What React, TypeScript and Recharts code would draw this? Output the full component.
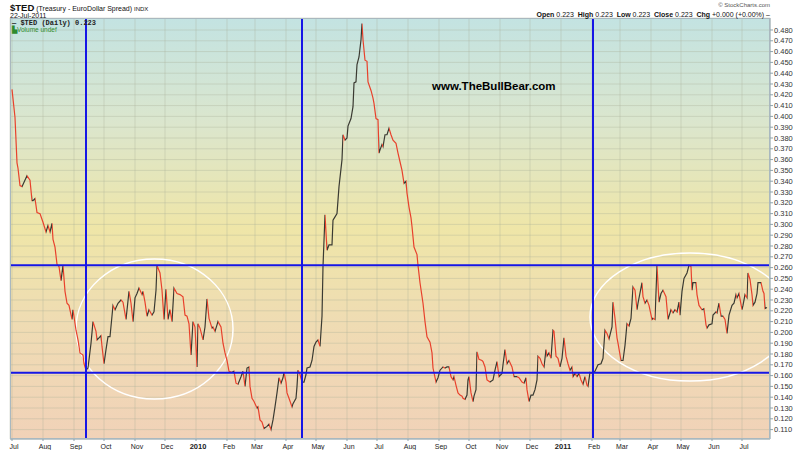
import React from 'react';
import { LineChart, Line, XAxis, YAxis, CartesianGrid, ReferenceLine, ReferenceArea } from 'recharts';

// calendar days since 1-Jul-2009
const tradingDay = [
  0, 3, 5, 6, 8, 10, 11, 15, 18, 20, 21, 23, 25, 28, 31, 34, 36, 38, 40, 41,
  43, 45, 47, 49, 51, 53, 55, 57, 60, 61, 64, 66, 68, 71, 72, 74, 76, 79, 81, 84,
  85, 87, 89, 90, 92, 94, 96, 98, 101, 103, 106, 109, 111, 114, 117, 119, 121, 123, 125, 127,
  130, 131, 133, 135, 137, 140, 142, 144, 145, 148, 150, 152, 154, 156, 158, 160, 162, 165, 168, 171,
  173, 175, 177, 179, 181, 183, 185, 186, 188, 191, 193, 195, 197, 200, 201, 203, 205, 206, 209, 211,
  213, 215, 217, 220, 222, 224, 226, 229, 231, 233, 235, 237, 238, 240, 242, 245, 246, 248, 250, 252,
  255, 257, 259, 261, 263, 265, 267, 269, 271, 272, 274, 275, 277, 280, 281, 284, 285, 286, 288, 290,
  292, 294, 295, 298, 300, 302, 304, 306, 308, 310, 311, 313, 315, 317, 320, 321, 323, 325, 327, 330,
  331, 333, 335, 336, 339, 341, 342, 344, 345, 347, 349, 350, 351, 353, 355, 356, 359, 361, 362, 364,
  366, 367, 368, 370, 371, 373, 375, 377, 379, 381, 384, 386, 388, 390, 392, 394, 395, 397, 399, 400,
  402, 405, 406, 408, 411, 413, 415, 418, 420, 421, 424, 426, 428, 431, 433, 435, 437, 439, 441, 442,
  444, 446, 448, 450, 451, 453, 455, 456, 457, 459, 461, 462, 464, 465, 467, 470, 471, 473, 475, 478,
  481, 483, 485, 487, 490, 491, 493, 495, 497, 500, 502, 505, 507, 510, 512, 514, 515, 517, 519, 521,
  523, 525, 526, 528, 530, 532, 534, 535, 537, 539, 541, 542, 544, 546, 548, 550, 552, 554, 556, 558,
  560, 561, 563, 565, 567, 569, 571, 573, 575, 576, 578, 581, 583, 586, 589, 591, 593, 595, 597, 600,
  601, 603, 605, 606, 609, 611, 613, 615, 617, 619, 621, 623, 625, 626, 630, 631, 633, 635, 637, 640,
  641, 643, 645, 647, 649, 651, 654, 656, 659, 661, 663, 665, 667, 668, 670, 672, 675, 677, 679, 680,
  681, 684, 685, 687, 690, 692, 694, 695, 697, 700, 701, 704, 705, 707, 709, 711, 713, 715, 717, 720,
  722, 724, 725, 727, 730, 731, 733, 735, 736, 738, 740, 741, 743, 745, 746, 749, 751, 752, 753, 755,
];

const tedSpread = [
  0.425, 0.399, 0.357, 0.352, 0.336, 0.335, 0.337, 0.345, 0.341, 0.322, 0.322, 0.324, 0.311, 0.310, 0.302, 0.293, 0.299, 0.293, 0.301, 0.286,
  0.279, 0.263, 0.261, 0.248, 0.262, 0.238, 0.227, 0.225, 0.212, 0.221, 0.202, 0.193, 0.181, 0.179, 0.171, 0.165, 0.167, 0.190, 0.210, 0.201,
  0.193, 0.195, 0.197, 0.187, 0.171, 0.184, 0.196, 0.196, 0.225, 0.221, 0.227, 0.230, 0.228, 0.212, 0.238, 0.227, 0.210, 0.232, 0.236, 0.241,
  0.235, 0.238, 0.228, 0.215, 0.221, 0.216, 0.219, 0.239, 0.262, 0.255, 0.239, 0.212, 0.240, 0.212, 0.221, 0.210, 0.241, 0.236, 0.235, 0.233,
  0.216, 0.215, 0.208, 0.179, 0.210, 0.205, 0.168, 0.208, 0.204, 0.193, 0.205, 0.231, 0.213, 0.204, 0.205, 0.201, 0.207, 0.210, 0.205, 0.190,
  0.181, 0.174, 0.164, 0.163, 0.164, 0.153, 0.152, 0.159, 0.164, 0.150, 0.167, 0.168, 0.150, 0.139, 0.136, 0.130, 0.131, 0.119, 0.117, 0.111,
  0.113, 0.115, 0.110, 0.119, 0.131, 0.144, 0.158, 0.153, 0.158, 0.163, 0.154, 0.144, 0.139, 0.131, 0.134, 0.139, 0.150, 0.165, 0.161, 0.154,
  0.154, 0.161, 0.167, 0.168, 0.174, 0.187, 0.191, 0.193, 0.187, 0.215, 0.261, 0.309, 0.276, 0.281, 0.281, 0.304, 0.307, 0.310, 0.335, 0.360,
  0.383, 0.378, 0.380, 0.391, 0.398, 0.409, 0.431, 0.432, 0.448, 0.455, 0.471, 0.486, 0.471, 0.452, 0.451, 0.432, 0.424, 0.417, 0.412, 0.398,
  0.397, 0.366, 0.369, 0.374, 0.372, 0.383, 0.383, 0.389, 0.383, 0.378, 0.375, 0.366, 0.358, 0.350, 0.338, 0.340, 0.329, 0.316, 0.306, 0.298,
  0.279, 0.272, 0.262, 0.246, 0.227, 0.210, 0.196, 0.191, 0.181, 0.167, 0.154, 0.158, 0.165, 0.168, 0.167, 0.168, 0.168, 0.159, 0.156, 0.159,
  0.151, 0.144, 0.142, 0.141, 0.139, 0.138, 0.142, 0.156, 0.159, 0.144, 0.136, 0.141, 0.147, 0.182, 0.175, 0.174, 0.173, 0.168, 0.156, 0.154,
  0.156, 0.165, 0.173, 0.159, 0.162, 0.170, 0.184, 0.171, 0.174, 0.168, 0.159, 0.159, 0.158, 0.154, 0.153, 0.158, 0.147, 0.136, 0.142, 0.142,
  0.147, 0.156, 0.178, 0.176, 0.171, 0.168, 0.184, 0.178, 0.181, 0.176, 0.202, 0.201, 0.178, 0.176, 0.168, 0.176, 0.195, 0.178, 0.171, 0.165,
  0.168, 0.159, 0.162, 0.159, 0.162, 0.156, 0.152, 0.159, 0.151, 0.150, 0.163, 0.162, 0.164, 0.170, 0.171, 0.176, 0.202, 0.199, 0.194, 0.205,
  0.228, 0.213, 0.195, 0.190, 0.174, 0.174, 0.188, 0.208, 0.206, 0.213, 0.242, 0.239, 0.221, 0.227, 0.246, 0.233, 0.227, 0.230, 0.225, 0.212,
  0.213, 0.212, 0.262, 0.228, 0.236, 0.239, 0.233, 0.212, 0.221, 0.218, 0.221, 0.219, 0.228, 0.216, 0.238, 0.250, 0.255, 0.262, 0.261, 0.239,
  0.246, 0.246, 0.235, 0.225, 0.221, 0.222, 0.207, 0.204, 0.207, 0.208, 0.216, 0.219, 0.218, 0.227, 0.215, 0.215, 0.212, 0.199, 0.216, 0.225,
  0.227, 0.235, 0.232, 0.236, 0.221, 0.225, 0.235, 0.232, 0.255, 0.249, 0.235, 0.225, 0.228, 0.236, 0.246, 0.246, 0.238, 0.236, 0.222, 0.223,
];

const monthTicks = [0, 31, 62, 92, 123, 153, 184, 215, 243, 274, 304, 335, 365, 396, 427, 457, 488, 518, 549, 580, 608, 639, 669, 700, 730];
const monthLabels = ['Jul', 'Aug', 'Sep', 'Oct', 'Nov', 'Dec', '2010', 'Feb', 'Mar', 'Apr', 'May', 'Jun', 'Jul', 'Aug', 'Sep', 'Oct', 'Nov', 'Dec', '2011', 'Feb', 'Mar', 'Apr', 'May', 'Jun', 'Jul'];

const spreadTicks = [
  0.11, 0.12, 0.13, 0.14, 0.15, 0.16, 0.17, 0.18, 0.19, 0.2, 0.21, 0.22, 0.23, 0.24, 0.25, 0.26, 0.27, 0.28, 0.29,
  0.3, 0.31, 0.32, 0.33, 0.34, 0.35, 0.36, 0.37, 0.38, 0.39, 0.4, 0.41, 0.42, 0.43, 0.44, 0.45, 0.46, 0.47, 0.48,
];

// annotations drawn on the chart
const markerDays = [74, 290, 581];
const rangeLevels = [0.1627, 0.2622];
const circledZones = [
  { x1: 64, x2: 221, y1: 0.1383, y2: 0.268 },
  { x1: 578, x2: 778, y1: 0.155, y2: 0.2735 },
];

const chartData = tradingDay.map((day, i) => ({ day, ted: tedSpread[i] }));

const FONT = 'Arial, "Liberation Sans", sans-serif';
const UP = '#3a3a32';
const DOWN = '#e8412c';

// stock-chart style colouring: dark on up moves, red on down moves
const first = tradingDay[0];
const span = tradingDay[tradingDay.length - 1] - first;
const strokeStops: React.ReactNode[] = [];
for (let i = 0; i < tradingDay.length - 1; i++) {
  const c = tedSpread[i + 1] >= tedSpread[i] ? UP : DOWN;
  const a = ((tradingDay[i] - first) / span) * 100;
  const b = ((tradingDay[i + 1] - first) / span) * 100;
  strokeStops.push(<stop key={`a${i}`} offset={`${a}%`} stopColor={c} />);
  strokeStops.push(<stop key={`b${i}`} offset={`${b}%`} stopColor={c} />);
}

const MonthTick = (props: any) => {
  const { x, y, payload } = props;
  const label = monthLabels[monthTicks.indexOf(payload.value)];
  const isYear = /^\d/.test(label);
  return (
    <text
      x={x + 2}
      y={y + 5.5}
      textAnchor="middle"
      fontSize={isYear ? 7.5 : 7}
      fontWeight={isYear ? 'bold' : 'normal'}
      fontFamily={FONT}
      fill="#222"
    >
      {label}
    </text>
  );
};

const Ellipse = (props: any) => {
  const { x, y, width, height } = props;
  return (
    <ellipse
      cx={x + width / 2}
      cy={y + height / 2}
      rx={Math.abs(width) / 2}
      ry={Math.abs(height) / 2}
      fill="none"
      stroke="#ffffff"
      strokeWidth={1.5}
    />
  );
};

const abs = (style: React.CSSProperties): React.CSSProperties => ({
  position: 'absolute',
  fontFamily: FONT,
  whiteSpace: 'nowrap',
  lineHeight: 1,
  ...style,
});

export default function App() {
  return (
    <div style={{ position: 'absolute', left: 0, top: 0, width: 800, height: 450, background: '#fff', overflow: 'hidden' }}>
      <LineChart width={800} height={450} data={chartData} margin={{ top: 18, right: 0, bottom: 0, left: 10 }}>
        <defs>
          <linearGradient id="bgFill" x1="0" y1="0" x2="0" y2="1">
            <stop offset="0%" stopColor="#c3e3e2" />
            <stop offset="25%" stopColor="#dbe6cd" />
            <stop offset="50%" stopColor="#efe6a8" />
            <stop offset="72%" stopColor="#efdcb3" />
            <stop offset="100%" stopColor="#f1d2b8" />
          </linearGradient>
          <linearGradient id="tedStroke" x1="0" y1="0" x2="1" y2="0">
            {strokeStops}
          </linearGradient>
        </defs>
        <CartesianGrid fill="url(#bgFill)" stroke="#a9ae98" strokeOpacity={0.35} />
        <XAxis
          dataKey="day"
          type="number"
          domain={[-2, 758]}
          ticks={monthTicks}
          interval={0}
          allowDataOverflow
          height={11}
          tickSize={2}
          tick={<MonthTick />}
          stroke="#8fa3ad"
        />
        <YAxis
          orientation="right"
          type="number"
          domain={[0.1013, 0.4911]}
          ticks={spreadTicks}
          interval={0}
          allowDataOverflow
          width={30}
          tickSize={3}
          tickMargin={1}
          stroke="#8fa3ad"
          tickFormatter={(v: number) => v.toFixed(3)}
          tick={{ fontSize: 7.5, fill: '#333', fontFamily: FONT }}
        />
        {circledZones.map((z, i) => (
          <ReferenceArea key={`z${i}`} x1={z.x1} x2={z.x2} y1={z.y1} y2={z.y2} ifOverflow="hidden" shape={<Ellipse />} />
        ))}
        <Line
          type="linear"
          dataKey="ted"
          stroke="url(#tedStroke)"
          strokeWidth={1.2}
          dot={false}
          activeDot={false}
          isAnimationActive={false}
        />
        {markerDays.map((d) => (
          <ReferenceLine key={`v${d}`} x={d} stroke="#1616e6" strokeWidth={2} />
        ))}
        {rangeLevels.map((v) => (
          <ReferenceLine key={`h${v}`} y={v} stroke="#1616e6" strokeWidth={2} />
        ))}
      </LineChart>

      <div style={abs({ left: 10, top: 18, width: 760, height: 421, border: '1px solid #a9b8bf', boxSizing: 'border-box', pointerEvents: 'none' })} />

      <div style={abs({ left: 10, top: 3, fontSize: 7, color: '#111' })}>
        <span style={{ fontSize: 9.5, fontWeight: 'bold' }}>$TED</span> (Treasury - EuroDollar Spread) <span style={{ fontSize: 6 }}>INDX</span>
      </div>
      <div style={abs({ left: 10, top: 12, fontSize: 7, color: '#111' })}>22-Jul-2011</div>
      <div style={abs({ right: 30, top: 2, fontSize: 6, color: '#555' })}>© StockCharts.com</div>
      <div style={abs({ right: 30, top: 11, fontSize: 7, color: '#111' })}>
        <b>Open</b> 0.223&nbsp; <b>High</b> 0.223&nbsp; <b>Low</b> 0.223&nbsp; <b>Close</b> 0.223&nbsp; <b>Chg</b> +0.000 (+0.00%) –
      </div>

      <div style={abs({ left: 12, top: 20, fontSize: 7, fontFamily: '"Liberation Mono", "DejaVu Sans Mono", monospace', fontWeight: 'bold', color: '#222' })}>
        — $TED (Daily) 0.223
      </div>
      <div style={abs({ left: 12, top: 27, fontSize: 6.5, color: '#2e8b2e' })}>▙Volume undef</div>

      <div style={abs({ left: 432, top: 81, fontSize: 11.5, fontWeight: 'bold', color: '#000' })}>www.TheBullBear.com</div>
    </div>
  );
}
